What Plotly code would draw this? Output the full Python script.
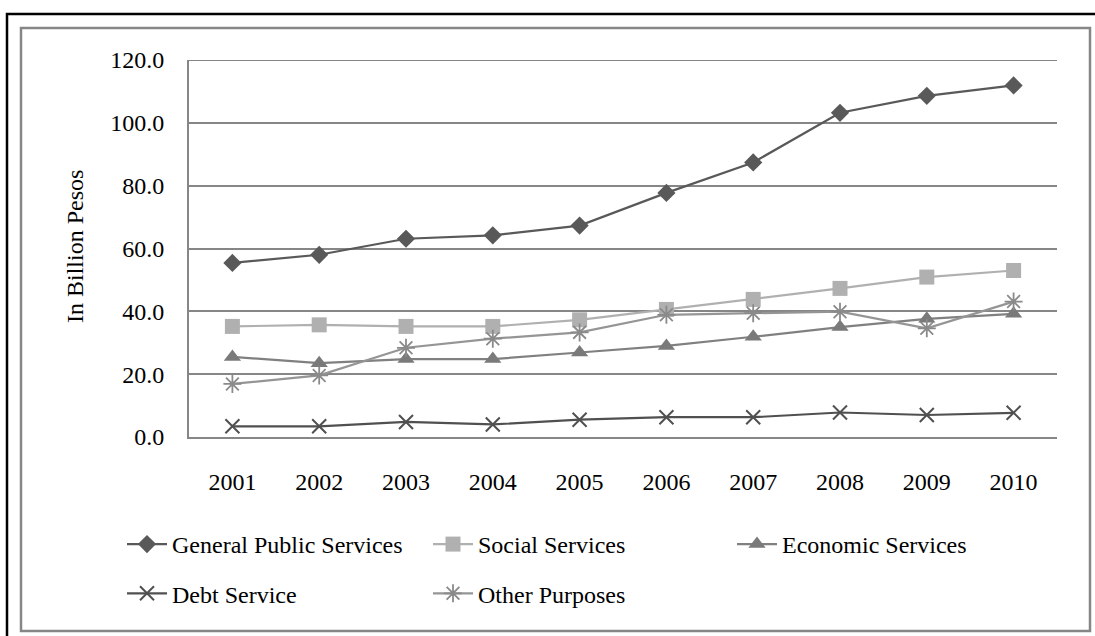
import plotly.graph_objects as go

years = ["2001", "2002", "2003", "2004", "2005", "2006", "2007", "2008", "2009", "2010"]
general_public = [55.4, 58.0, 63.1, 64.2, 67.3, 77.7, 87.4, 103.2, 108.6, 111.9]
social = [35.2, 35.7, 35.2, 35.2, 37.3, 40.6, 43.8, 47.3, 50.9, 53.0]
economic = [25.5, 23.5, 24.8, 24.8, 26.9, 29.0, 31.9, 35.0, 37.6, 39.2]
debt = [3.4, 3.4, 4.8, 4.0, 5.5, 6.3, 6.3, 7.8, 7.0, 7.7]
other = [16.9, 19.6, 28.4, 31.3, 33.3, 38.9, 39.4, 39.9, 34.6, 43.1]
y_ticks = [0, 20, 40, 60, 80, 100, 120]

FONT = "Liberation Serif, Times New Roman, serif"
W, H = 1095, 636
L, R, T, B = 189, 38, 60, 199
PW, PH = W - L - R, H - T - B


def px_x(p):
    return (p - L) / PW


def px_y(p):
    return (H - B - p) / PH


series = [
    ("General Public Services", general_public, "#595959", "#595959", "diamond", 14, 0, "legend"),
    ("Social Services", social, "#b0b0b0", "#b0b0b0", "square", 15, 0, "legend2"),
    ("Economic Services", economic, "#808080", "#7a7a7a", "triangle-up", 15, 0, "legend3"),
    ("Debt Service", debt, "#505050", "#505050", "x-thin-open", 14, 2, "legend"),
    ("Other Purposes", other, "#959595", "#8a8a8a", "asterisk-open", 15, 1.8, "legend2"),
]

fig = go.Figure()
for name, vals, lc, mc, sym, size, mlw, leg in series:
    fig.add_trace(go.Scatter(
        x=years, y=vals, name=name, mode="lines+markers",
        line=dict(color=lc, width=2.2),
        marker=dict(symbol=sym, size=size, color=mc, line=dict(color=mc, width=mlw)),
        legend=leg, legendgroup=name,
    ))

legend_common = dict(
    orientation="v", xanchor="left", yanchor="top",
    font=dict(family=FONT, size=24, color="#000000"),
    bgcolor="rgba(0,0,0,0)", traceorder="grouped", tracegroupgap=15,
    itemwidth=40,
)
ly = px_y(522)
fig.update_layout(
    width=W, height=H,
    margin=dict(l=L, r=R, t=T, b=B, pad=0),
    paper_bgcolor="white", plot_bgcolor="white",
    font=dict(family=FONT, size=24, color="#000000"),
    xaxis=dict(
        type="category", range=[-0.5, 9.5], showgrid=False,
        showline=True, linecolor="#868686", linewidth=2,
        ticks="", tickfont=dict(family=FONT, size=24),
        ticklabelstandoff=22,
    ),
    yaxis=dict(
        range=[0, 120], tickvals=y_ticks, tickformat=".1f",
        showgrid=True, gridcolor="#868686", gridwidth=1.8,
        showline=True, linecolor="#868686", linewidth=2,
        zeroline=False, ticks="", tickfont=dict(family=FONT, size=24),
        ticklabelstandoff=18,
    ),
    legend=dict(x=px_x(122), y=ly, **legend_common),
    legend2=dict(x=px_x(428), y=ly, **legend_common),
    legend3=dict(x=px_x(732), y=ly, **legend_common),
    showlegend=True,
)

fig.add_annotation(
    text="In Billion Pesos", textangle=-90, xref="paper", yref="paper",
    x=px_x(75), y=px_y(247), xanchor="center", yanchor="middle", showarrow=False,
    font=dict(family=FONT, size=24, color="#000000"),
)

# top gridline at the upper end of the value axis
fig.add_shape(type="line", xref="paper", yref="y", x0=0, x1=1, y0=y_ticks[-1], y1=y_ticks[-1],
              line=dict(color="#868686", width=1.8), layer="below")

# outer frame lines
fig.add_shape(type="rect", xref="paper", yref="paper",
              x0=px_x(21), x1=px_x(1090), y0=px_y(631), y1=px_y(28),
              line=dict(color="#868686", width=2.5), fillcolor="rgba(0,0,0,0)", layer="below")
fig.add_shape(type="rect", xref="paper", yref="paper",
              x0=px_x(7), x1=px_x(1110), y0=px_y(660), y1=px_y(14),
              line=dict(color="#000000", width=2.5), fillcolor="rgba(0,0,0,0)", layer="below")

fig.write_html("out.html")
